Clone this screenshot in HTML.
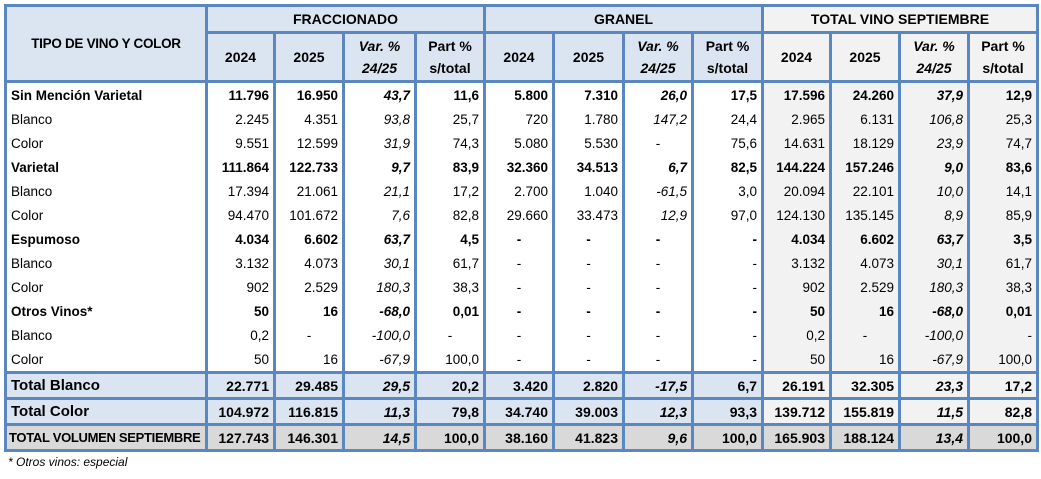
<!DOCTYPE html>
<html><head><meta charset="utf-8"><style>
body{margin:0;background:#fff;width:1041px;height:479px;overflow:hidden;font-family:"Liberation Sans",sans-serif;}
table{position:absolute;left:4px;top:4px;border-collapse:collapse;table-layout:fixed;font-size:13.5px;color:#000;}
td{padding:0 4px;border-left:3px solid #5b87c0;border-right:3px solid #5b87c0;text-align:right;white-space:nowrap;overflow:hidden;}
tr.h td{background:#dbe5f1;text-align:center;font-weight:bold;border:3px solid #5b87c0;font-size:14px}
tr.h td.g{background:#f2f2f2}
tr.d td{height:24px;background:#fff}
tr.d td:nth-child(n+10){background:#f2f2f2}
tr.d td:first-child{text-align:left;}
tr.b td{font-weight:bold}
td.i{font-style:italic}
td.c{text-align:center}
tr.t td{height:23px;border:3px solid #5b87c0;font-weight:bold;background:#dbe5f1;font-size:14px}
tr.t td:nth-child(n+10){background:#f2f2f2}
tr.t td:first-child{text-align:left;font-size:15px}
tr.v td{background:#d9d9d9 !important}
tr.v td:first-child{font-size:13px;letter-spacing:-0.3px;padding:0 2px}
tr.first td{border-top:3px solid #5b87c0}
.foot{position:absolute;left:8px;top:455px;font-size:12px;font-style:italic;color:#000}
</style></head><body>
<table>
<colgroup><col style="width:201px"><col style="width:68px"><col style="width:69px"><col style="width:72px"><col style="width:69px"><col style="width:69px"><col style="width:70px"><col style="width:69px"><col style="width:70px"><col style="width:68px"><col style="width:69px"><col style="width:69px"><col style="width:69px"></colgroup>
<tr class="h" style="height:27px"><td rowspan="2" style="font-size:13.5px;letter-spacing:-0.3px">TIPO DE VINO Y COLOR</td><td colspan="4">FRACCIONADO</td><td colspan="4">GRANEL</td><td colspan="4" class="g">TOTAL VINO SEPTIEMBRE</td></tr>
<tr class="h" style="height:49px;line-height:22px"><td>2024</td><td>2025</td><td class="i">Var. %<br>24/25</td><td>Part %<br>s/total</td><td>2024</td><td>2025</td><td class="i">Var. %<br>24/25</td><td>Part %<br>s/total</td><td class="g">2024</td><td class="g">2025</td><td class="g i">Var. %<br>24/25</td><td class="g">Part %<br>s/total</td></tr>
<tr class="d b first"><td>Sin Mención Varietal</td><td>11.796</td><td>16.950</td><td class="i">43,7</td><td>11,6</td><td>5.800</td><td>7.310</td><td class="i">26,0</td><td>17,5</td><td>17.596</td><td>24.260</td><td class="i">37,9</td><td>12,9</td></tr>
<tr class="d"><td>Blanco</td><td>2.245</td><td>4.351</td><td class="i">93,8</td><td>25,7</td><td>720</td><td>1.780</td><td class="i">147,2</td><td>24,4</td><td>2.965</td><td>6.131</td><td class="i">106,8</td><td>25,3</td></tr>
<tr class="d"><td>Color</td><td>9.551</td><td>12.599</td><td class="i">31,9</td><td>74,3</td><td>5.080</td><td>5.530</td><td class="c">-</td><td>75,6</td><td>14.631</td><td>18.129</td><td class="i">23,9</td><td>74,7</td></tr>
<tr class="d b"><td>Varietal</td><td>111.864</td><td>122.733</td><td class="i">9,7</td><td>83,9</td><td>32.360</td><td>34.513</td><td class="i">6,7</td><td>82,5</td><td>144.224</td><td>157.246</td><td class="i">9,0</td><td>83,6</td></tr>
<tr class="d"><td>Blanco</td><td>17.394</td><td>21.061</td><td class="i">21,1</td><td>17,2</td><td>2.700</td><td>1.040</td><td class="i">-61,5</td><td>3,0</td><td>20.094</td><td>22.101</td><td class="i">10,0</td><td>14,1</td></tr>
<tr class="d"><td>Color</td><td>94.470</td><td>101.672</td><td class="i">7,6</td><td>82,8</td><td>29.660</td><td>33.473</td><td class="i">12,9</td><td>97,0</td><td>124.130</td><td>135.145</td><td class="i">8,9</td><td>85,9</td></tr>
<tr class="d b"><td>Espumoso</td><td>4.034</td><td>6.602</td><td class="i">63,7</td><td>4,5</td><td class="c">-</td><td class="c">-</td><td class="c">-</td><td>-</td><td>4.034</td><td>6.602</td><td class="i">63,7</td><td>3,5</td></tr>
<tr class="d"><td>Blanco</td><td>3.132</td><td>4.073</td><td class="i">30,1</td><td>61,7</td><td class="c">-</td><td class="c">-</td><td class="c">-</td><td>-</td><td>3.132</td><td>4.073</td><td class="i">30,1</td><td>61,7</td></tr>
<tr class="d"><td>Color</td><td>902</td><td>2.529</td><td class="i">180,3</td><td>38,3</td><td class="c">-</td><td class="c">-</td><td class="c">-</td><td>-</td><td>902</td><td>2.529</td><td class="i">180,3</td><td>38,3</td></tr>
<tr class="d b"><td>Otros Vinos*</td><td>50</td><td>16</td><td class="i">-68,0</td><td>0,01</td><td class="c">-</td><td class="c">-</td><td class="c">-</td><td>-</td><td>50</td><td>16</td><td class="i">-68,0</td><td>0,01</td></tr>
<tr class="d"><td>Blanco</td><td>0,2</td><td class="c">-</td><td class="i">-100,0</td><td class="c">-</td><td class="c">-</td><td class="c">-</td><td class="c">-</td><td>-</td><td>0,2</td><td class="c">-</td><td class="i">-100,0</td><td>-</td></tr>
<tr class="d" style="height:21px"><td style="height:21px">Color</td><td>50</td><td>16</td><td class="i">-67,9</td><td>100,0</td><td class="c">-</td><td class="c">-</td><td class="c">-</td><td>-</td><td>50</td><td>16</td><td class="i">-67,9</td><td>100,0</td></tr>
<tr class="t"><td>Total Blanco</td><td>22.771</td><td>29.485</td><td class="i">29,5</td><td>20,2</td><td>3.420</td><td>2.820</td><td class="i">-17,5</td><td>6,7</td><td>26.191</td><td>32.305</td><td class="i">23,3</td><td>17,2</td></tr>
<tr class="t"><td>Total Color</td><td>104.972</td><td>116.815</td><td class="i">11,3</td><td>79,8</td><td>34.740</td><td>39.003</td><td class="i">12,3</td><td>93,3</td><td>139.712</td><td>155.819</td><td class="i">11,5</td><td>82,8</td></tr>
<tr class="t v"><td>TOTAL VOLUMEN SEPTIEMBRE</td><td>127.743</td><td>146.301</td><td class="i">14,5</td><td>100,0</td><td>38.160</td><td>41.823</td><td class="i">9,6</td><td>100,0</td><td>165.903</td><td>188.124</td><td class="i">13,4</td><td>100,0</td></tr>
</table>
<div class="foot">* Otros vinos: especial</div>
</body></html>
